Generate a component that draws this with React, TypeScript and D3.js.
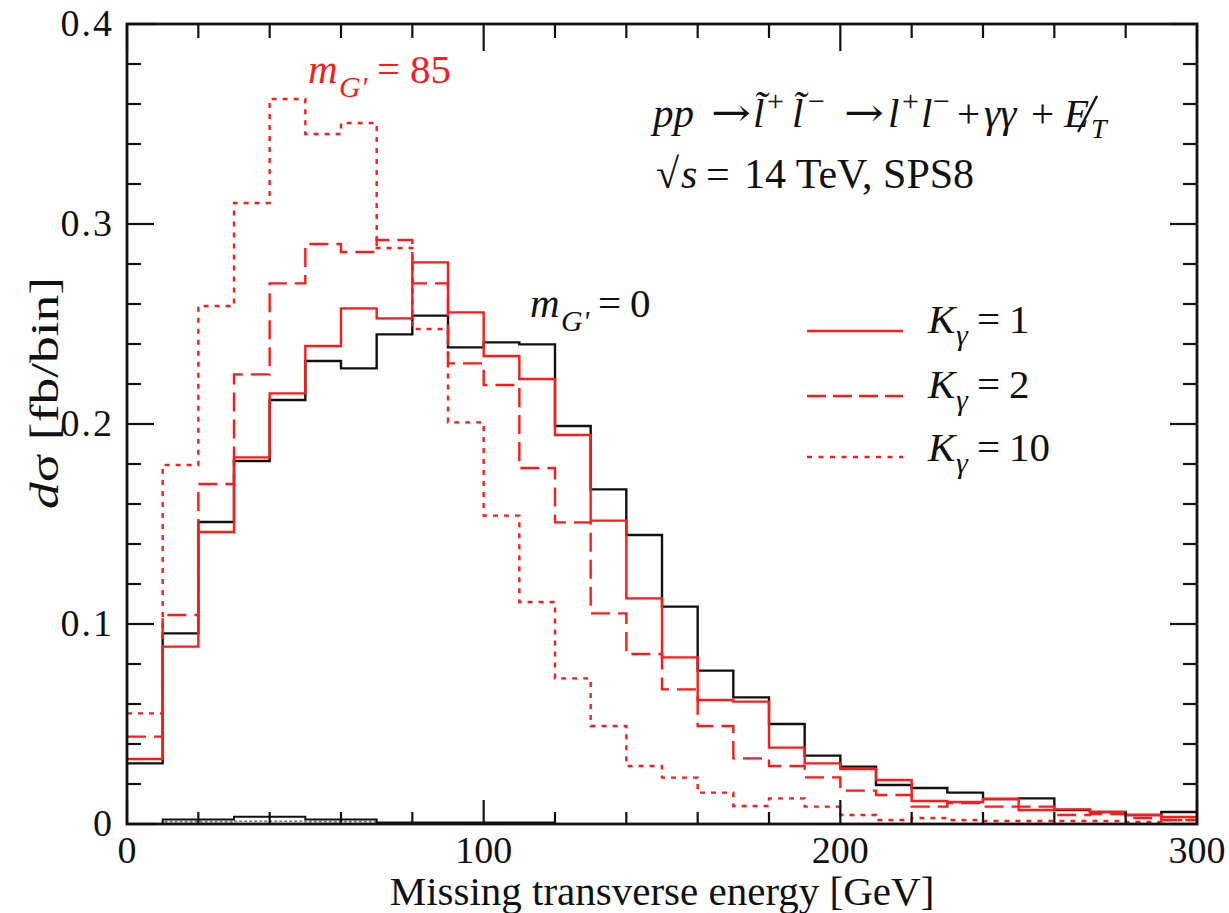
import React from 'react';
import * as d3 from 'd3';

// Bin lower edges (GeV), bin width 10 GeV
const binLow = [0, 10, 20, 30, 40, 50, 60, 70, 80, 90, 100, 110, 120, 130, 140, 150, 160, 170, 180, 190, 200, 210, 220, 230, 240, 250, 260, 270, 280, 290];
const binWidth = 10;

// m_G' = 0 (black)
const mG0 = [0.0303, 0.0953, 0.151, 0.1815, 0.212, 0.2315, 0.2278, 0.2448, 0.2542, 0.2383, 0.2408, 0.2398, 0.199, 0.1673, 0.1445, 0.1087, 0.0767, 0.0633, 0.05, 0.0342, 0.0287, 0.0195, 0.018, 0.0157, 0.0125, 0.0128, 0.007, 0.006, 0.0045, 0.006];
// m_G' = 85, K_gamma = 1 (red solid)
const mG85K1 = [0.0325, 0.0887, 0.146, 0.1833, 0.2153, 0.239, 0.2578, 0.2528, 0.2808, 0.2558, 0.234, 0.2225, 0.1945, 0.1517, 0.1128, 0.0833, 0.062, 0.0612, 0.0382, 0.0303, 0.0275, 0.022, 0.0115, 0.011, 0.0125, 0.007, 0.0073, 0.006, 0.0045, 0.0035];
// K_gamma = 2 (red dashed)
const mG85K2 = [0.0437, 0.1045, 0.17, 0.2248, 0.2703, 0.29, 0.286, 0.292, 0.2703, 0.2303, 0.2195, 0.178, 0.1508, 0.1053, 0.085, 0.0673, 0.049, 0.0328, 0.029, 0.0233, 0.0167, 0.0145, 0.0087, 0.0105, 0.0087, 0.0087, 0.0045, 0.005, 0.003, 0.002];
// K_gamma = 10 (red dotted)
const mG85K10 = [0.0553, 0.1795, 0.259, 0.3105, 0.3625, 0.345, 0.3505, 0.288, 0.2475, 0.2008, 0.1542, 0.111, 0.0728, 0.049, 0.029, 0.0232, 0.0157, 0.009, 0.0128, 0.0087, 0.0045, 0.002, 0.003, 0.002, 0.0015, 0.0015, 0.0015, 0.0015, 0.001, 0.002];
// small background histograms near zero
const bgSolid = [0, 0.0022, 0.0022, 0.0036, 0.0036, 0.0022, 0.0022, 0.0008, 0.0008, 0.0008, 0.0008, 0.0008];
const bgDotted = [0, 0.0012, 0.0012, 0.0014, 0.0014, 0.0012, 0.0012];

const xMajor = [0, 100, 200, 300];
const xMajorLabels = ['0', '100', '200', '300'];
const xMinor = [20, 40, 60, 80, 120, 140, 160, 180, 220, 240, 260, 280];
const yMajor = [0, 0.1, 0.2, 0.3, 0.4];
const yMajorLabels = ['0', '0.1', '0.2', '0.3', '0.4'];
const yMinor = [0.02, 0.04, 0.06, 0.08, 0.12, 0.14, 0.16, 0.18, 0.22, 0.24, 0.26, 0.28, 0.32, 0.34, 0.36, 0.38];
const legendLabels = ['1', '2', '10'];

const W = 1229;
const H = 913;
const L = 127, R = 1197, T = 24, B = 824;
const FONT = '"Liberation Serif", "Times New Roman", Times, serif';
const ARROW_FONT = '"DejaVu Serif", "DejaVu Sans", serif';
const RED = '#ff1a1a';
const INK = '#111';
const tf: React.CSSProperties = { fontFamily: FONT };

type PieceProps = { x: number; y: number; t: string; it?: boolean; fs?: number; fill?: string; len?: number; font?: string };
function P({ x, y, t, it, fs = 41, fill = INK, len, font = FONT }: PieceProps) {
  return (
    <text x={x} y={y} fontSize={fs} fill={fill}
      textLength={len} lengthAdjust={len ? 'spacingAndGlyphs' : undefined}
      style={{ fontFamily: font, fontStyle: it ? 'italic' : 'normal' }}>{t}</text>
  );
}

export default function App() {
  const x = d3.scaleLinear().domain([0, 300]).range([L, R]);
  const y = d3.scaleLinear().domain([0, 0.4]).range([B, T]);

  const histPath = (vals: number[]) => {
    const pts: [number, number][] = [];
    vals.forEach((v, i) => {
      pts.push([binLow[i], v]);
      pts.push([binLow[i] + binWidth, v]);
    });
    return d3.line<[number, number]>().x(d => x(d[0])).y(d => y(d[1]))(pts) || '';
  };

  const majLen = 27, minLen = 14;
  const sw = 2.4;
  const legendY = [331, 396, 457];
  const legendDash = [undefined, '19,7', '5,6.5'];
  const tb = 127, sb = 111, sfs = 30; // title baseline, superscript baseline, superscript size

  return (
    <svg width={W} height={H} style={{ position: 'absolute', left: 0, top: 0, background: '#fff' }}>
      <rect x={0} y={0} width={W} height={H} fill="#fff" />
      {/* histograms */}
      <path d={histPath(bgDotted)} fill="none" stroke="#777" strokeWidth={1.6} strokeDasharray="3,2" />
      <path d={histPath(bgSolid)} fill="none" stroke={INK} strokeWidth={2} />
      <path d={histPath(mG0)} fill="none" stroke={INK} strokeWidth={sw} />
      <path d={histPath(mG85K10)} fill="none" stroke={RED} strokeWidth={sw} strokeDasharray="5,6" />
      <path d={histPath(mG85K2)} fill="none" stroke={RED} strokeWidth={sw} strokeDasharray="19,8" />
      <path d={histPath(mG85K1)} fill="none" stroke={RED} strokeWidth={sw} />

      {/* frame */}
      <rect x={L} y={T} width={R - L} height={B - T} fill="none" stroke={INK} strokeWidth={2.8} />
      {xMajor.map(v => (
        <g key={'xm' + v}>
          <line x1={x(v)} x2={x(v)} y1={B} y2={B - majLen + 3} stroke={INK} strokeWidth={2.2} />
          <line x1={x(v)} x2={x(v)} y1={T} y2={T + majLen} stroke={INK} strokeWidth={2.2} />
        </g>
      ))}
      {xMinor.map(v => (
        <g key={'xn' + v}>
          <line x1={x(v)} x2={x(v)} y1={B} y2={B - minLen + 2} stroke={INK} strokeWidth={2.2} />
          <line x1={x(v)} x2={x(v)} y1={T} y2={T + minLen} stroke={INK} strokeWidth={2.2} />
        </g>
      ))}
      {yMajor.map(v => (
        <g key={'ym' + v}>
          <line x1={L} x2={L + majLen} y1={y(v)} y2={y(v)} stroke={INK} strokeWidth={2.2} />
          <line x1={R} x2={R - majLen} y1={y(v)} y2={y(v)} stroke={INK} strokeWidth={2.2} />
        </g>
      ))}
      {yMinor.map(v => (
        <g key={'yn' + v}>
          <line x1={L} x2={L + minLen} y1={y(v)} y2={y(v)} stroke={INK} strokeWidth={2.2} />
          <line x1={R} x2={R - minLen} y1={y(v)} y2={y(v)} stroke={INK} strokeWidth={2.2} />
        </g>
      ))}
      {/* tick labels */}
      {xMajor.map((v, i) => (
        <text key={'xl' + v} style={tf} x={x(v)} y={863} textAnchor="middle" fontSize={38} fill={INK}>{xMajorLabels[i]}</text>
      ))}
      {yMajor.map((v, i) => (
        <text key={'yl' + v} style={tf} x={114} y={y(v) + 12} textAnchor="end" fontSize={38} letterSpacing={2} fill={INK}>{yMajorLabels[i]}</text>
      ))}

      {/* axis titles */}
      <text style={tf} x={(L + R) / 2} y={905} textAnchor="middle" fontSize={41} fill={INK}>Missing transverse energy [GeV]</text>
      <text style={tf} transform={`translate(58,${393}) rotate(-90)`} textAnchor="middle" fontSize={41} fill={INK}
        textLength={232} lengthAdjust="spacingAndGlyphs">
        <tspan style={{ fontFamily: FONT, fontStyle: 'italic' }}>d</tspan><tspan style={tf}>σ [fb/bin]</tspan>
      </text>

      {/* process label, line 1 */}
      <P x={653} y={tb} t="pp" it />
      <P x={711} y={tb - 1} t="→" fs={40} len={40} font={ARROW_FONT} />
      <P x={753} y={tb} t="l̃" it />
      <P x={767} y={sb} t="+" fs={sfs} />
      <P x={792} y={tb} t="l̃" it />
      <P x={808} y={sb} t="−" fs={sfs} />
      <P x={844} y={tb - 1} t="→" fs={40} len={40} font={ARROW_FONT} />
      <P x={888} y={tb} t="l" it />
      <P x={902} y={sb} t="+" fs={sfs} />
      <P x={921} y={tb} t="l" it />
      <P x={933} y={sb} t="−" fs={sfs} />
      <P x={957} y={tb} t="+" />
      <P x={984} y={tb} t="γγ" it />
      <P x={1031} y={tb} t="+" />
      <P x={1064} y={tb} t="E" it />
      <line x1={1078} y1={132} x2={1097} y2={96} stroke={INK} strokeWidth={2.4} />
      <P x={1091} y={138} t="T" it fs={28} />
      {/* line 2 */}
      <P x={656} y={188} t="√" fs={42} />
      <P x={681} y={188} t="s" it fs={42} />
      <P x={706} y={188} t="=" fs={42} />
      <P x={744} y={188} t="14 TeV, SPS8" fs={42} />

      {/* curve labels */}
      <P x={308} y={83} t="m" it fill={RED} />
      <P x={339} y={97} t="G'" it fs={30} fill={RED} />
      <P x={377} y={83} t="=" fill={RED} />
      <P x={410} y={83} t="85" fill={RED} />

      <P x={530} y={317} t="m" it />
      <P x={561} y={331} t="G'" it fs={30} />
      <P x={598} y={317} t="=" />
      <P x={630} y={317} t="0" />

      {/* legend */}
      {legendLabels.map((lab, i) => (
        <g key={lab}>
          <line x1={807} x2={903} y1={legendY[i]} y2={legendY[i]} stroke={RED} strokeWidth={sw} strokeDasharray={legendDash[i]} />
          <P x={928} y={legendY[i] + 2 + (i === 2 ? 2 : 0)} t="K" it />
          <P x={956} y={legendY[i] + 14 + (i === 2 ? 2 : 0)} t="γ" it fs={30} />
          <P x={977} y={legendY[i] + 2 + (i === 2 ? 2 : 0)} t="=" />
          <P x={1009} y={legendY[i] + 2 + (i === 2 ? 2 : 0)} t={lab} />
        </g>
      ))}
    </svg>
  );
}
